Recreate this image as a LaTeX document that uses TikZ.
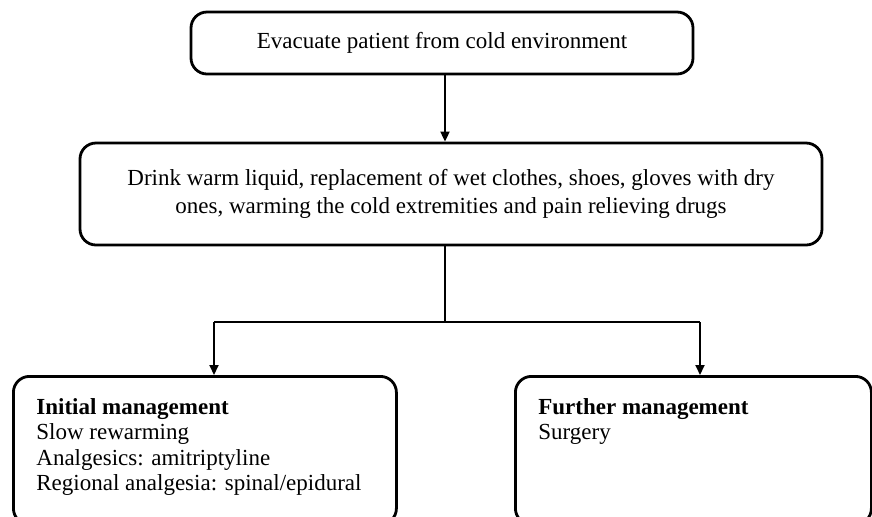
\documentclass[tikz,border=0pt]{standalone}
\usepackage{fontspec}
\setmainfont{Liberation Serif}
\usetikzlibrary{arrows.meta}
\tikzset{
box/.style={draw,line width=1.4pt,rounded corners=8pt,align=center,font=\fontsize{11.5}{13.8}\selectfont},
mgmt/.style={box,anchor=north west,align=left,inner xsep=11.5pt,inner ysep=11pt,font=\fontsize{11.5}{12.7}\selectfont},
link/.style={line width=.9pt},
arr/.style={link,-{Triangle[length=5pt,width=4.5pt]}}
}
\begin{document}
\begin{tikzpicture}[x=.5pt,y=-.5pt]
\useasboundingbox(0,0)rectangle(872,516);
\clip(0,0)rectangle(872,516);
% boxes
\node[box,minimum width=251pt,minimum height=31pt](evac)at(442,43){Evacuate patient from cold environment};
\node[box,minimum width=371pt,minimum height=51pt](care)at(451,194){Drink warm liquid, replacement of wet clothes, shoes, gloves with dry\\ones, warming the cold extremities and pain relieving drugs};
\node[mgmt](init)at(12,375){\parbox[t][52pt][t]{168.5pt}{\textbf{Initial management}\\Slow rewarming\\Analgesics: amitriptyline\\Regional analgesia: spinal/epidural}};
\node[mgmt](further)at(514,375){\parbox[t][52pt][t]{155pt}{\textbf{Further management}\\Surgery}};
% connectors
\coordinate(fork)at(445,322);
\coordinate(l)at(214,322);
\coordinate(r)at(700,322);
\draw[arr](evac.south-|fork)--(care.north-|fork);
\draw[link](care.south-|fork)--(fork);
\draw[link](l)--(r);
\draw[arr](l)--(l|-init.north);
\draw[arr](r)--(r|-further.north);
\end{tikzpicture}
\end{document}
